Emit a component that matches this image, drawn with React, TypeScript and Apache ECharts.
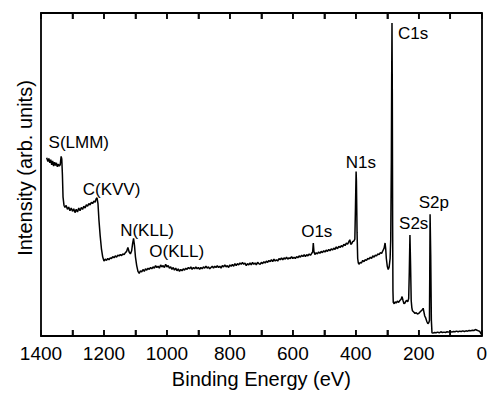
import React, { useEffect, useRef } from "react";
import * as echarts from "echarts";

// Binding energy (eV) / intensity (arb. units, 0-100 scale)
const augerRegion: [number, number][] = [
  [1382, 55.2], [1378, 54.0], [1375, 55.0], [1372, 53.6], [1369, 54.6], [1366, 53.0],
  [1363, 54.2], [1360, 52.6], [1357, 53.8], [1354, 52.8], [1351, 53.6], [1348, 52.4],
  [1345, 53.2], [1342, 52.6], [1339, 53.0], [1336, 55.6], [1334, 54.8], [1332, 50.0],
  [1330, 43.0], [1327, 40.5], [1324, 39.8], [1320, 40.4], [1316, 39.2], [1312, 39.9],
  [1308, 38.8], [1304, 39.6], [1300, 38.6], [1296, 39.4], [1292, 38.2], [1288, 39.2],
  [1284, 38.4], [1280, 39.6], [1276, 38.8], [1272, 39.8], [1268, 39.2], [1264, 40.2],
  [1260, 39.6], [1256, 40.6], [1252, 40.2], [1248, 41.0], [1244, 40.6], [1240, 41.4],
  [1236, 41.0], [1232, 41.8], [1228, 41.4], [1225, 42.4], [1222, 42.8], [1219, 41.0],
  [1216, 36.0], [1212, 31.0], [1208, 27.0], [1204, 24.5], [1200, 23.2], [1196, 23.8],
  [1192, 23.4], [1188, 24.0], [1184, 23.6], [1180, 24.2], [1176, 24.0], [1172, 24.6],
  [1168, 24.2], [1164, 24.8], [1160, 24.4], [1156, 25.0], [1152, 24.8], [1148, 25.2],
  [1144, 24.9], [1140, 25.4], [1136, 25.2], [1132, 25.8], [1128, 26.2], [1124, 27.4],
  [1120, 26.0], [1116, 25.4], [1112, 26.4], [1109, 28.6], [1106, 30.2], [1103, 28.0],
  [1100, 24.5], [1096, 21.8], [1092, 20.0], [1088, 19.4], [1084, 20.2], [1080, 19.8],
  [1076, 20.6], [1072, 20.0], [1068, 20.8], [1064, 20.4], [1060, 21.0], [1056, 20.6],
  [1052, 21.2], [1048, 20.8], [1044, 21.4], [1040, 21.0], [1036, 21.8], [1032, 21.2],
  [1028, 21.6], [1024, 21.0], [1020, 22.0], [1016, 21.4], [1012, 21.8], [1008, 21.2],
  [1004, 22.2], [1000, 21.4], [996, 21.8], [992, 21.0], [988, 21.4], [984, 20.6],
  [980, 21.2], [976, 20.4], [972, 21.0], [968, 20.2], [964, 20.8], [960, 20.0],
  [956, 20.6], [952, 20.2], [948, 20.8], [944, 20.4], [940, 21.0], [936, 20.6],
  [932, 21.2], [928, 20.8], [924, 21.4], [920, 20.6], [916, 21.2], [912, 20.8],
  [908, 21.4], [904, 20.8], [900, 21.2],
];

const midRegion: [number, number][] = [
  [896, 20.6], [892, 21.2], [888, 20.8], [884, 21.4], [880, 21.0], [876, 21.6],
  [872, 21.0], [868, 21.4], [864, 20.8], [860, 21.2], [856, 21.6], [852, 21.0],
  [848, 21.6], [844, 21.2], [840, 21.8], [836, 21.2], [832, 21.6], [828, 21.0],
  [824, 21.8], [820, 21.4], [816, 22.0], [812, 21.4], [808, 21.8], [804, 21.2],
  [800, 22.0], [796, 21.6], [792, 22.2], [788, 21.6], [784, 22.4], [780, 21.8],
  [776, 22.4], [772, 22.0], [768, 22.6], [764, 22.2], [760, 22.8], [756, 22.2],
  [752, 22.6], [748, 21.8], [744, 22.4], [740, 22.0], [736, 22.6], [732, 22.0],
  [728, 22.8], [724, 22.2], [720, 22.6], [716, 22.0], [712, 22.8], [708, 22.4],
  [704, 22.2], [700, 22.8], [696, 22.4], [692, 23.0], [688, 22.6], [684, 23.2],
  [680, 22.8], [676, 23.4], [672, 23.0], [668, 23.6], [664, 23.0], [660, 23.8],
  [656, 23.2], [652, 23.6], [648, 23.2], [644, 24.0], [640, 23.6], [636, 24.2],
  [632, 23.6], [628, 24.2], [624, 23.8], [620, 24.4], [616, 23.8], [612, 24.2],
  [608, 24.0], [604, 24.6], [600, 24.0], [596, 24.4], [592, 24.0], [588, 24.6],
  [584, 24.2], [580, 24.8], [576, 24.4], [572, 25.0], [568, 24.6], [564, 25.2],
  [560, 24.6], [556, 25.2], [552, 24.8], [548, 25.4], [544, 25.0], [540, 25.6],
  [537, 26.0], [535, 28.8], [533, 26.2], [530, 25.2], [526, 25.8], [522, 25.4],
  [518, 26.0], [514, 25.6], [510, 26.2], [506, 25.8], [502, 26.4], [498, 26.0],
  [494, 26.6], [490, 26.2], [486, 26.8], [482, 26.4], [478, 27.0], [474, 26.6],
  [470, 27.2], [466, 26.8], [462, 27.6], [458, 27.0], [454, 27.8], [450, 27.4],
  [446, 28.0], [442, 27.6], [438, 28.4], [434, 28.0], [430, 28.8], [426, 28.4],
  [422, 29.2], [419, 29.8], [416, 28.4], [413, 28.6], [410, 29.2], [406, 29.4],
  [403, 30.0],
];

const coreRegion: [number, number][] = [
  [401, 40.0], [399, 50.9], [398, 48.0], [396, 32.0], [394, 24.0], [392, 22.6],
  [390, 22.2], [386, 22.8], [382, 22.6], [378, 23.4], [374, 23.0], [370, 23.6],
  [366, 23.4], [362, 24.0], [358, 23.8], [354, 24.4], [350, 24.0], [346, 24.8],
  [342, 24.4], [338, 25.0], [334, 24.8], [330, 25.4], [326, 25.2], [322, 25.8],
  [318, 25.6], [314, 26.4], [310, 27.2], [307, 28.8], [305, 27.0], [303, 24.0],
  [300, 21.6], [297, 20.6], [294, 21.4], [291, 24.0], [289, 30.0], [287, 55.0],
  [286, 80.0], [285, 96.9], [284, 75.0], [283, 35.0], [282, 14.0], [281, 10.4],
  [278, 10.0], [275, 10.6], [272, 10.2], [268, 10.8], [264, 10.4], [260, 11.0],
  [256, 11.4], [253, 12.2], [250, 11.0], [247, 10.0], [244, 10.2], [241, 10.8],
  [238, 11.0], [235, 10.6], [232, 11.6], [230, 20.0], [228, 31.3], [226, 22.0],
  [224, 11.0], [222, 8.8], [220, 7.8], [216, 7.4], [212, 7.0], [208, 7.2],
  [204, 6.8], [200, 7.0], [196, 7.4], [192, 7.8], [188, 8.2], [186, 8.6],
  [184, 7.6], [181, 6.2], [178, 5.6], [174, 4.4], [171, 3.8], [168, 4.2],
  [166, 4.8], [165, 20.0], [164, 37.7], [162, 25.0], [160, 5.0], [158, 1.0],
  [155, 0.9], [150, 1.1], [145, 1.0], [140, 1.2], [135, 1.0], [130, 1.3],
  [125, 1.1], [120, 1.2], [115, 1.1], [110, 1.3], [105, 1.2], [100, 1.4],
  [95, 1.2], [90, 1.4], [85, 1.3], [80, 1.5], [75, 1.3], [70, 1.5],
  [65, 1.4], [60, 1.6], [55, 1.4], [50, 1.6], [45, 1.5], [40, 1.7],
  [35, 1.6], [30, 1.8], [25, 1.7], [20, 2.0], [15, 1.8], [10, 1.6],
  [6, 1.4], [3, 0.8], [1, 0.5],
];

// Peak labels: [text, energy, intensity] anchor in data coordinates
const peakLabels: [string, number, number][] = [
  ["S(LMM)", 1280, 59.8],
  ["C(KVV)", 1176, 45.4],
  ["N(KLL)", 1063, 32.8],
  ["O(KLL)", 969, 26.1],
  ["O1s", 524, 32.5],
  ["N1s", 384, 53.8],
  ["C1s", 218, 93.7],
  ["S2s", 216, 34.8],
  ["S2p", 152, 41.4],
];

// Tick positions along the energy axis (major every 200, minor every 100)
const tickEnergies = [100, 200, 300, 400, 500, 600, 700, 800, 900, 1000, 1100, 1200, 1300];

const xTicks = { min: 0, max: 1400, interval: 200 };
const yRange = { min: 0, max: 100 };
const xTitle = "Binding Energy (eV)";
const yTitle = "Intensity (arb. units)";

const FONT = '"Liberation Sans", Arial, sans-serif';

export default function App() {
  const ref = useRef<HTMLDivElement>(null);
  useEffect(() => {
    document.body.style.margin = "0";
    if (!ref.current) return;
    const chart = echarts.init(ref.current, undefined, { renderer: "svg" });
    const spectrum = [...augerRegion, ...midRegion, ...coreRegion];
    const tickSeries = (yVal: number, offset: number) => ({
      type: "scatter",
      data: tickEnergies.map((e) => [e, yVal]),
      symbol: "rect",
      symbolSize: [1.6, 6],
      symbolOffset: [0, offset],
      itemStyle: { color: "#000" },
      silent: true,
      clip: false,
      xAxisIndex: 0,
      yAxisIndex: 0,
      z: 5,
    });
    chart.setOption({
      animation: false,
      textStyle: { fontFamily: FONT },
      grid: { left: 41, right: 6, top: 13, bottom: 55, containLabel: false },
      xAxis: [
        {
          type: "value",
          position: "bottom",
          inverse: true,
          min: xTicks.min,
          max: xTicks.max,
          interval: xTicks.interval,
          axisLine: { show: true, onZero: false, lineStyle: { color: "#000", width: 1.8 } },
          axisTick: { show: true, inside: true, length: 6, lineStyle: { color: "#000", width: 1.6 } },
          minorTick: { show: true, splitNumber: 2, length: 6, lineStyle: { color: "#000", width: 1.6 } },
          splitLine: { show: false },
          minorSplitLine: { show: false },
          axisLabel: {
            color: "#000",
            fontSize: 19,
            margin: 8,
            formatter: (v: number) => String(v),
          },
          name: xTitle,
          nameLocation: "middle",
          nameGap: 33,
          nameTextStyle: { color: "#000", fontSize: 20 },
        },
        {
          type: "value",
          position: "top",
          inverse: true,
          min: xTicks.min,
          max: xTicks.max,
          interval: xTicks.interval,
          axisLine: { show: true, onZero: false, lineStyle: { color: "#000", width: 1.8 } },
          axisTick: { show: true, inside: true, length: 6, lineStyle: { color: "#000", width: 1.6 } },
          minorTick: { show: true, splitNumber: 2, length: 6, lineStyle: { color: "#000", width: 1.6 } },
          splitLine: { show: false },
          minorSplitLine: { show: false },
          axisLabel: { show: false },
        },
      ],
      yAxis: [
        {
          type: "value", min: yRange.min, max: yRange.max, position: "left",
          axisLine: { show: true, onZero: false, lineStyle: { color: "#000", width: 1.8 } },
          axisTick: { show: false }, axisLabel: { show: false }, splitLine: { show: false },
        },
        {
          type: "value", min: yRange.min, max: yRange.max, position: "right",
          axisLine: { show: true, onZero: false, lineStyle: { color: "#000", width: 1.8 } },
          axisTick: { show: false }, axisLabel: { show: false }, splitLine: { show: false },
        },
      ],
      graphic: [
        {
          type: "text",
          x: 25,
          y: 168,
          rotation: Math.PI / 2,
          style: {
            text: yTitle,
            fontSize: 20,
            fontFamily: FONT,
            fill: "#000",
            align: "center",
            verticalAlign: "middle",
            textAlign: "center",
            textVerticalAlign: "middle",
          },
        },
      ],
      series: [
        {
          type: "line",
          data: spectrum,
          showSymbol: false,
          symbol: "none",
          lineStyle: { color: "#000", width: 1.5 },
          xAxisIndex: 0,
          yAxisIndex: 0,
        },
        {
          type: "line",
          data: peakLabels.map(([t, e, v]) => ({ name: t, value: [e, v] })),
          showSymbol: true,
          symbol: "circle",
          symbolSize: 0,
          lineStyle: { width: 0, opacity: 0 },
          itemStyle: { color: "#000", opacity: 1 },
          label: {
            show: true,
            position: [0, 0],
            align: "center",
            verticalAlign: "middle",
            formatter: "{b}",
            color: "#000",
            fontSize: 17,
            fontFamily: FONT,
          },
          xAxisIndex: 0,
          yAxisIndex: 0,
        },
        tickSeries(yRange.min, -3),
        tickSeries(yRange.max, 3),
      ],
    });
    return () => chart.dispose();
  }, []);
  return <div ref={ref} style={{ width: 490, height: 394 }} />;
}
